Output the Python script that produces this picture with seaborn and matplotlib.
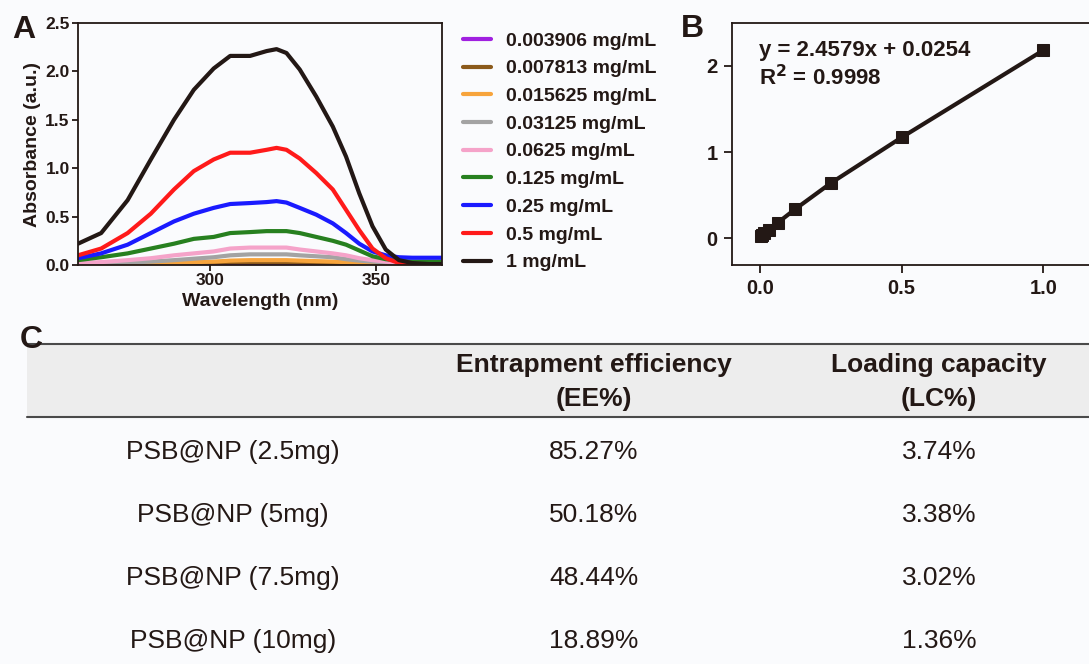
import numpy as np
import pandas as pd
import matplotlib
matplotlib.use("Agg")
import matplotlib.pyplot as plt
from matplotlib.patches import Rectangle
import seaborn as sns

# ---------------- data ----------------
wavelength = [260, 267, 275, 282, 289, 295, 301, 306, 312, 317, 320, 323,
              327, 332, 337, 341, 345, 349, 353, 357, 361, 366, 370]
conc_labels = ["0.003906 mg/mL", "0.007813 mg/mL", "0.015625 mg/mL",
               "0.03125 mg/mL", "0.0625 mg/mL", "0.125 mg/mL",
               "0.25 mg/mL", "0.5 mg/mL", "1 mg/mL"]
abs_0003906 = [0, 0, 0, 0, 0.002, 0.004, 0.005, 0.006, 0.006, 0.006, 0.006, 0.006,
               0.006, 0.005, 0.004, 0.003, 0.002, 0.001, 0, 0, 0, 0, 0]
abs_0007813 = [0, 0, 0.005, 0.01, 0.015, 0.02, 0.025, 0.03, 0.03, 0.03, 0.03, 0.03,
               0.03, 0.025, 0.02, 0.015, 0.01, 0.008, 0.005, 0, 0, 0, 0]
abs_0015625 = [0, 0.005, 0.01, 0.015, 0.02, 0.03, 0.035, 0.045, 0.05, 0.05, 0.05, 0.05,
               0.045, 0.04, 0.035, 0.03, 0.02, 0.015, 0.01, 0.005, 0, 0, 0]
abs_003125 = [0.01, 0.015, 0.025, 0.035, 0.05, 0.065, 0.08, 0.10, 0.11, 0.11, 0.11, 0.11,
              0.10, 0.09, 0.08, 0.06, 0.045, 0.035, 0.025, 0.015, 0.01, 0.01, 0.01]
abs_00625 = [0.02, 0.03, 0.05, 0.07, 0.10, 0.12, 0.14, 0.17, 0.18, 0.18, 0.18, 0.18,
             0.16, 0.14, 0.12, 0.10, 0.07, 0.05, 0.035, 0.02, 0.017, 0.01, 0.01]
abs_0125 = [0.05, 0.08, 0.12, 0.17, 0.22, 0.27, 0.29, 0.33, 0.34, 0.35, 0.35, 0.35,
            0.33, 0.29, 0.25, 0.21, 0.15, 0.09, 0.06, 0.045, 0.035, 0.035, 0.035]
abs_025 = [0.07, 0.12, 0.21, 0.33, 0.45, 0.53, 0.59, 0.63, 0.64, 0.65, 0.66, 0.645,
           0.59, 0.52, 0.43, 0.33, 0.22, 0.14, 0.10, 0.08, 0.075, 0.075, 0.075]
abs_05 = [0.10, 0.17, 0.33, 0.53, 0.78, 0.97, 1.09, 1.16, 1.16, 1.19, 1.21, 1.19,
          1.10, 0.95, 0.78, 0.57, 0.36, 0.17, 0.07, 0.02, 0.0, 0.0, 0.0]
abs_1 = [0.22, 0.33, 0.67, 1.09, 1.50, 1.81, 2.03, 2.16, 2.16, 2.21, 2.23, 2.19,
         2.02, 1.74, 1.43, 1.12, 0.74, 0.40, 0.16, 0.05, 0.02, 0.01, 0.01]
spectra = [abs_0003906, abs_0007813, abs_0015625, abs_003125, abs_00625,
           abs_0125, abs_025, abs_05, abs_1]
line_colors = ["#a020e0", "#8b5a1b", "#f7a43c", "#a3a3a3", "#f5a3c9",
               "#27801f", "#1a1aff", "#ff1a1a", "#231815"]

# standard curve (panel B)
std_conc = [0.003906, 0.007813, 0.015625, 0.03125, 0.0625, 0.125, 0.25, 0.5, 1.0]
std_abs = [0.03, 0.04, 0.06, 0.10, 0.18, 0.34, 0.64, 1.17, 2.18]
fit_text = "y = 2.4579x + 0.0254"
r2_text = "R$^\\mathbf{2}$ = 0.9998"

# table (panel C)
col_headers = ["Entrapment efficiency\n(EE%)", "Loading capacity\n(LC%)"]
row_labels = ["PSB@NP (2.5mg)", "PSB@NP (5mg)", "PSB@NP (7.5mg)", "PSB@NP (10mg)"]
ee_values = [85.27, 50.18, 48.44, 18.89]
lc_values = [3.74, 3.38, 3.02, 1.36]

# ---------------- style ----------------
sns.set_theme(style="ticks")
plt.rcParams["font.family"] = ["Liberation Sans", "DejaVu Sans"]
DARK = "#231815"
BG = "#fafbfd"
plt.rcParams.update({
    "axes.edgecolor": DARK, "axes.linewidth": 1.3,
    "xtick.color": DARK, "ytick.color": DARK,
    "text.color": DARK, "axes.labelcolor": DARK,
    "xtick.major.width": 1.3, "ytick.major.width": 1.3,
    "lines.solid_joinstyle": "round", "lines.solid_capstyle": "round",
})

W, H = 1089, 664
fig = plt.figure(figsize=(W / 100, H / 100), dpi=100, facecolor=BG)

def frac(left, top, right, bottom):
    return [left / W, 1 - bottom / H, (right - left) / W, (bottom - top) / H]

# ---------------- panel A ----------------
axA = fig.add_axes(frac(78, 23, 442, 265))
axA.set_facecolor(BG)
rows = []
for lab, vals in zip(conc_labels, spectra):
    for wl, v in zip(wavelength, vals):
        rows.append({"Wavelength": wl, "Absorbance": v, "Concentration": lab})
dfA = pd.DataFrame(rows)
sns.lineplot(data=dfA, x="Wavelength", y="Absorbance", hue="Concentration",
             hue_order=conc_labels, palette=line_colors, linewidth=3,
             ax=axA, legend=True)
axA.set_xlim(260, 370)
axA.set_ylim(0, 2.5)
axA.set_xticks([300, 350])
axA.set_yticks([0, 0.5, 1.0, 1.5, 2.0, 2.5])
axA.set_yticklabels(["0.0", "0.5", "1.0", "1.5", "2.0", "2.5"])
axA.tick_params(axis="both", direction="out", length=4, labelsize=12.5, pad=2)
for t in axA.get_xticklabels() + axA.get_yticklabels():
    t.set_fontweight("bold")
axA.set_xlabel("Wavelength (nm)", fontsize=14, fontweight="bold", labelpad=3)
axA.set_ylabel("Absorbance (a.u.)", fontsize=14, fontweight="bold", labelpad=3)
for s in axA.spines.values():
    s.set_visible(True)

handles, labels = axA.get_legend_handles_labels()
axA.legend_.remove()
leg = fig.legend(handles, labels, loc="upper left",
                 bbox_to_anchor=(463 / W, 1 - 32 / H), frameon=False,
                 prop={"size": 14, "weight": "bold"}, handlelength=1.45,
                 handletextpad=0.75, labelspacing=0.52, borderpad=0,
                 borderaxespad=0)
for h in leg.get_lines():
    h.set_linewidth(3)

fig.text(24 / W, 1 - 30 / H, "A", fontsize=23, fontweight="bold",
         ha="center", va="center")

# ---------------- panel B ----------------
axB = fig.add_axes(frac(731.7, 22.7, 1100, 265))
axB.set_facecolor(BG)
sns.lineplot(x=std_conc, y=std_abs, marker="s", markersize=8, color=DARK,
             markeredgecolor=DARK, linewidth=3, ax=axB)
axB.set_xlim(-0.1, 1.2)
axB.set_ylim(-0.31, 2.5)
axB.set_xticks([0, 0.5, 1.0])
axB.set_xticklabels(["0.0", "0.5", "1.0"])
axB.set_yticks([0, 1, 2])
axB.tick_params(axis="both", direction="out", length=6, labelsize=14.5, pad=4)
for t in axB.get_xticklabels() + axB.get_yticklabels():
    t.set_fontweight("bold")
axB.spines["right"].set_visible(False)
axB.text(0.074, 0.885, fit_text, transform=axB.transAxes, fontsize=16,
         fontweight="bold", ha="left", va="center")
axB.text(0.074, 0.775, r2_text, transform=axB.transAxes, fontsize=16,
         fontweight="bold", ha="left", va="center")
fig.text(692 / W, 1 - 29 / H, "B", fontsize=23, fontweight="bold",
         ha="center", va="center")

# ---------------- panel C (table) ----------------
axC = fig.add_axes([0, 0, 1, 1], zorder=-1)
axC.set_xlim(0, W)
axC.set_ylim(H, 0)
axC.axis("off")
axC.add_patch(Rectangle((27, 344), W - 27, 73, facecolor="#ededed",
                        edgecolor="none"))
axC.plot([27, W], [344, 344], color="#4a4a4a", lw=1.5)
axC.plot([27, W], [417, 417], color="#4a4a4a", lw=1.5)
fig.text(31 / W, 1 - 340 / H, "C", fontsize=23, fontweight="bold",
         ha="center", va="center")

col_x = [233, 594, 939]
for cx, hdr in zip(col_x[1:], col_headers):
    l1, l2 = hdr.split("\n")
    axC.text(cx, 365, l1, fontsize=19, fontweight="bold", ha="center", va="center")
    axC.text(cx, 399, l2, fontsize=19, fontweight="bold", ha="center", va="center")

row_y = [452, 515, 578, 641]
for ry, lab, ee, lc in zip(row_y, row_labels, ee_values, lc_values):
    axC.text(col_x[0], ry, lab, fontsize=19, ha="center", va="center")
    axC.text(col_x[1], ry, f"{ee:.2f}%", fontsize=19, ha="center", va="center")
    axC.text(col_x[2], ry, f"{lc:.2f}%", fontsize=19, ha="center", va="center")

fig.savefig("out.png", dpi=100, facecolor=BG)
